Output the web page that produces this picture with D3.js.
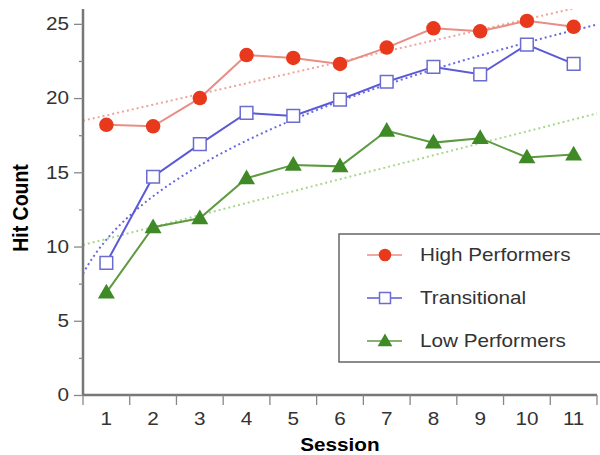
<!DOCTYPE html>
<html>
<head>
<meta charset="utf-8">
<script src="https://cdn.jsdelivr.net/npm/d3@7"></script>
<style>
  body { margin: 0; background: #fff; }
  svg { display: block; font-family: "Liberation Sans", Arial, sans-serif; }
  .wide { transform-box: fill-box; transform: scaleX(1.15); }
</style>
</head>
<body>
<div id="chart"></div>
<script>
// Data
const sessions = [1, 2, 3, 4, 5, 6, 7, 8, 9, 10, 11];
const highPerformers = [18.2, 18.1, 20.0, 22.9, 22.7, 22.3, 23.4, 24.7, 24.5, 25.2, 24.8];
const transitional = [8.9, 14.7, 16.9, 19.0, 18.8, 19.9, 21.1, 22.1, 21.6, 23.6, 22.3];
const lowPerformers = [6.9, 11.3, 11.9, 14.6, 15.5, 15.4, 17.8, 17.0, 17.3, 16.0, 16.2];
const yTicks = [0, 5, 10, 15, 20, 25];

const width = 600, height = 455;
const margin = { top: 9, right: 3, bottom: 60, left: 83 };
const innerW = width - margin.left - margin.right;
const innerH = height - margin.top - margin.bottom;

const svg = d3.select('#chart').append('svg')
    .attr('width', width)
    .attr('height', height);

const g = svg.append('g')
    .attr('transform', `translate(${margin.left},${margin.top})`);

// Scales
const x = d3.scaleBand().domain(sessions).range([0, innerW]);
const xc = d3.scaleLinear().domain([0.5, sessions.length + 0.5]).range([0, innerW]);
const y = d3.scaleLinear().domain([0, 26]).range([innerH, 0]);

// Clip for trend lines
svg.append('defs').append('clipPath').attr('id', 'plot-clip')
    .append('rect').attr('width', innerW).attr('height', innerH);

// Trend lines (regressions of the series)
function linearFit(vals) {
    const mx = d3.mean(sessions), my = d3.mean(vals);
    let sxy = 0, sxx = 0;
    sessions.forEach((s, i) => { sxy += (s - mx) * (vals[i] - my); sxx += (s - mx) ** 2; });
    const b = sxy / sxx;
    return s => my + b * (s - mx);
}
function powerFit(vals) {
    const lx = sessions.map(Math.log), ly = vals.map(Math.log);
    const mx = d3.mean(lx), my = d3.mean(ly);
    let sxy = 0, sxx = 0;
    lx.forEach((v, i) => { sxy += (v - mx) * (ly[i] - my); sxx += (v - mx) ** 2; });
    const b = sxy / sxx, a = Math.exp(my - b * mx);
    return s => a * Math.pow(s, b);
}

const trendX = d3.range(0.5, 11.51, 0.1);
const trendLine = d3.line().x(d => xc(d[0])).y(d => y(d[1]));
const trends = [
    { fn: linearFit(highPerformers), color: '#eea59c' },
    { fn: powerFit(transitional), color: '#6a6ae0' },
    { fn: linearFit(lowPerformers), color: '#a8d890' }
];
const trendG = g.append('g').attr('clip-path', 'url(#plot-clip)');
trends.forEach(t => {
    trendG.append('path')
        .attr('d', trendLine(trendX.map(s => [s, t.fn(s)])))
        .attr('fill', 'none')
        .attr('stroke', t.color)
        .attr('stroke-width', 2)
        .attr('stroke-dasharray', '2,3');
});

// Axes
const yAxis = g.append('g')
    .call(d3.axisLeft(y).tickValues(yTicks).tickSize(9).tickPadding(5).tickFormat(d3.format('d')));
g.append('g')
    .call(d3.axisLeft(y).tickValues(d3.range(2.5, 26, 5)).tickSize(4).tickFormat(''))
    .call(a => a.select('.domain').remove());
const xAxis = g.append('g')
    .attr('transform', `translate(0,${innerH})`)
    .call(d3.axisBottom(x).tickSize(0).tickPadding(17));
xAxis.selectAll('.bt').data(d3.range(sessions.length + 1)).join('line')
    .attr('x1', d => d * x.step()).attr('x2', d => d * x.step())
    .attr('y1', 0).attr('y2', 10);

[yAxis, xAxis].forEach(a => {
    a.selectAll('.domain').attr('stroke', '#777').attr('stroke-width', 2.5);
    a.selectAll('text').attr('font-size', 18).attr('fill', '#333').attr('class', 'wide');
});
yAxis.selectAll('text').style('transform-origin', 'right center');
xAxis.selectAll('text').style('transform-origin', 'center');
g.selectAll('.tick line').attr('stroke', '#888').attr('stroke-width', 1.3);
xAxis.selectAll('line').attr('stroke', '#888').attr('stroke-width', 1.3);
xAxis.select('.domain').attr('d', `M0,0H${innerW}`);
yAxis.select('.domain').attr('d', `M0,0V${innerH}`);

// Axis titles
svg.append('text')
    .attr('x', margin.left + innerW / 2).attr('y', 451)
    .attr('text-anchor', 'middle').attr('font-weight', 'bold').attr('font-size', 18)
    .attr('class', 'wide').style('transform-origin', 'center')
    .text('Session');
svg.append('text')
    .attr('transform', `translate(28,${margin.top + innerH / 2 + 6}) rotate(-90) scale(1,1.12)`)
    .attr('text-anchor', 'middle').attr('font-weight', 'bold').attr('font-size', 19.5)
    .text('Hit Count');

// Series
const series = [
    { name: 'High Performers', values: highPerformers, line: '#e88e84', mark: 'circle', fill: '#e8391d', stroke: '#e8391d' },
    { name: 'Transitional', values: transitional, line: '#5a5ad8', mark: 'square', fill: '#fff', stroke: '#6b6bd0' },
    { name: 'Low Performers', values: lowPerformers, line: '#5e9a40', mark: 'triangle', fill: '#3f8a26', stroke: '#3f8a26' }
];
const symbolTypes = { circle: d3.symbolCircle, square: d3.symbolSquare, triangle: d3.symbolTriangle };
const symbolSizes = { circle: 165, square: 160, triangle: 125 };

const line = d3.line()
    .x((d, i) => x(sessions[i]) + x.bandwidth() / 2)
    .y(d => y(d));

function drawMark(sel, s, cx, cy, k) {
    sel.append('path')
        .attr('d', d3.symbol().type(symbolTypes[s.mark]).size(symbolSizes[s.mark] * k)())
        .attr('transform', `translate(${cx},${cy + (s.mark === 'triangle' ? 1 : 0)})`)
        .attr('fill', s.fill)
        .attr('stroke', s.stroke)
        .attr('stroke-width', s.mark === 'square' ? 1.5 : 0);
}

series.forEach(s => {
    g.append('path')
        .attr('d', line(s.values))
        .attr('fill', 'none')
        .attr('stroke', s.line)
        .attr('stroke-width', 2);
    const mg = g.append('g');
    s.values.forEach((v, i) => drawMark(mg, s, x(sessions[i]) + x.bandwidth() / 2, y(v), 1));
});

// Legend
const legend = svg.append('g');
legend.append('rect')
    .attr('x', 339).attr('y', 234).attr('width', 280).attr('height', 128)
    .attr('fill', '#fff').attr('stroke', '#666').attr('stroke-width', 1.5);
series.forEach((s, i) => {
    const ly = 255 + i * 43;
    legend.append('line')
        .attr('x1', 367).attr('x2', 402).attr('y1', ly).attr('y2', ly)
        .attr('stroke', s.line).attr('stroke-width', 1.5);
    drawMark(legend, s, 385, ly, 0.75);
    legend.append('text')
        .attr('x', 420).attr('y', ly + 6.5)
        .attr('font-size', 18).attr('fill', '#333')
        .attr('class', 'wide').style('transform-origin', 'left center')
        .text(s.name);
});
</script>
</body>
</html>
